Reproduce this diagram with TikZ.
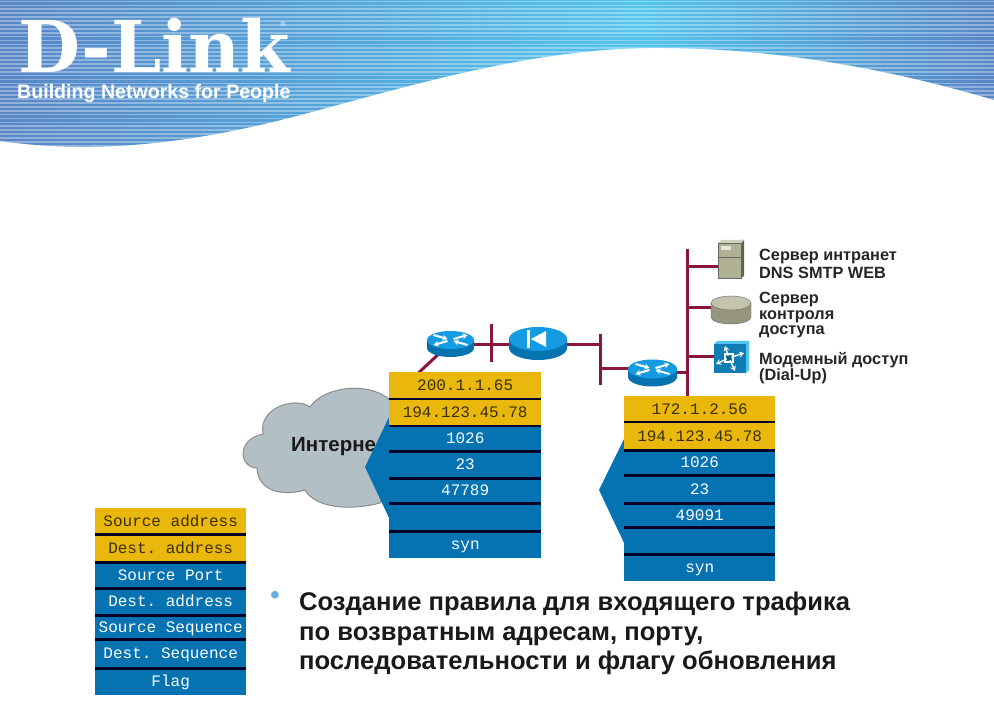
\documentclass[tikz,border=0pt]{standalone}
\usepackage{fontspec}
\setmainfont{Liberation Sans}
\setmonofont{Liberation Mono}
\newfontfamily\logofont{DejaVu Serif}
\usepackage{xcolor}
\usetikzlibrary{positioning,arrows.meta}
\definecolor{bandblue}{RGB}{88,134,198}
\definecolor{bandsky}{RGB}{84,196,238}
\definecolor{gold}{RGB}{234,184,12}
\definecolor{cell}{RGB}{5,114,178}
\definecolor{wire}{RGB}{140,22,58}
\definecolor{cloudgray}{RGB}{178,192,198}
\definecolor{tan}{RGB}{176,176,146}
\definecolor{routertop}{RGB}{20,155,225}
\definecolor{routerside}{RGB}{5,115,175}
\tikzset{
	goldcell/.style={draw=none, rectangle, fill=gold, minimum width=#1, inner sep=0pt, text=black!75!gold},
	bluecell/.style={draw=none, rectangle, fill=cell, minimum width=#1, inner sep=0pt, text=white},
	wire/.style={draw=wire, line width=3pt},
	rowline/.style={draw=black!85!blue, line width=2.2pt},
	caption/.style={anchor=north west, align=left, inner sep=0pt, font=\fontsize{16.3}{#1}\selectfont\bfseries, text=black!85},
	bullettext/.style={anchor=north west, align=left, inner sep=0pt, font=\fontsize{25.6}{29.5}\selectfont\bfseries, text=black!90},
	celltext/.style={font=\fontsize{16}{16}\selectfont\ttfamily, anchor=north west, text height=13pt, text depth=3pt},
	whitearrow/.style={draw=white, line width=2pt, -{Stealth[length=5pt,width=6pt]}}
}
% round box: centre x, centre y, half width, side height, half height
\newcommand{\routerbox}[5]{%
	\fill[routerside] (#1-#3,#2) -- (#1-#3,#2+#4) arc[x radius=#3, y radius=#5, start angle=180, end angle=0] -- (#1+#3,#2) -- cycle;
	\fill[routertop] (#1,#2) ellipse[x radius=#3, y radius=#5];
}
\begin{document}
\begin{tikzpicture}[x=1pt, y=-1pt]
	\useasboundingbox (0,0) rectangle (994,703);
	\fill[white] (0,0) rectangle (994,703);

	% header band
	\begin{scope}
		\clip (0,0) -- (994,0) -- (994,100) .. controls (900,72) and (780,47) .. (650,48)
			.. controls (540,49) and (430,80) .. (330,107) .. controls (230,135) and (120,158) .. (0,141) -- cycle;
		\shade[left color=bandblue, right color=bandsky] (0,0) rectangle (640,160);
		\shade[left color=bandsky, right color=bandblue] (640,0) rectangle (994,160);
		\foreach \y in {1.5,5.4,...,160}
			\draw[white, opacity=.35, line width=1.7pt] (0,\y) -- (994,\y);
	\end{scope}
	\node[text=white, inner sep=0pt, anchor=base west, text height=53pt, text depth=0pt] (logo) at (18,73) {\logofont\fontsize{71.5}{72}\selectfont\bfseries D-Link};
	\node[text=white, inner sep=0pt, font=\fontsize{7}{7}\selectfont] (reg) at (283,24) {®};
	\node[text=white, inner sep=0pt, anchor=base west, font=\fontsize{19.6}{20}\selectfont\bfseries] (tag) at (17,99) {Building Networks for People};

	% network devices
	\coordinate (r1) at (450.5,343);
	\coordinate (k1) at (538,342);
	\coordinate (r2) at (652.5,371);
	\coordinate (netjoin) at (398,392);
	\coordinate (b1top) at (491,324);
	\coordinate (b1bot) at (491,362);
	\coordinate (b2top) at (600,334);
	\coordinate (b2bot) at (600,385);
	\coordinate (b3top) at (687,249);
	\coordinate (b3bot) at (687,397);
	\coordinate (b1j) at (491,345);
	\coordinate (b2j) at (600,345);
	\coordinate (b2k) at (600,369);
	\coordinate (b3a) at (687,267);
	\coordinate (b3b) at (687,308);
	\coordinate (b3c) at (687,357);
	\coordinate (b3d) at (687,373);
	\coordinate (srv) at (719,267);
	\coordinate (dsk) at (711,308);
	\coordinate (mdm) at (714,357);

	\draw[wire] (r1) -- (netjoin);

	% cloud
	\draw[draw=black!45, fill=cloudgray, line width=1pt] (263,434) .. controls (258,408) and (295,396) .. (310,407)
		.. controls (325,385) and (375,380) .. (395,405) .. controls (402,440) and (400,480) .. (380,503)
		.. controls (350,511) and (315,508) .. (305,490) .. controls (280,497) and (258,490) .. (257,468)
		.. controls (240,468) and (235,440) .. cycle;
	\node[anchor=west, inner sep=0pt, font=\fontsize{20.5}{20}\selectfont\bfseries, text=black!90] (net) at (291,447) {Интерне};

	\draw[wire] (r1 |- b1j) -- (b1j);
	\draw[wire] (b1j) -- (b2j);
	\draw[wire] (b1top) -- (b1bot);
	\draw[wire] (b2top) -- (b2bot);
	\draw[wire] (b2k) -- (r2 |- b2k);
	\draw[wire] (r2 |- b3d) -- (b3d);
	\draw[wire] (b3top) -- (b3bot);
	\draw[wire] (b3a) -- (srv);
	\draw[wire] (b3b) -- (dsk);
	\draw[wire] (b3c) -- (mdm);

	\routerbox{450.5}{340}{23.5}{8}{9}
	\routerbox{652.5}{369}{24.5}{8}{9.5}
	\routerbox{538}{339}{29}{9}{12}
	\foreach \cx/\cy in {450.5/340, 652.5/369}{
		\begin{scope}[shift={(\cx,\cy)}]
			\draw[whitearrow] (-17,-5) -- (-3,-1);
			\draw[whitearrow] (17,5) -- (3,1);
			\draw[whitearrow] (3,-1) -- (17,-5);
			\draw[whitearrow] (-3,1) -- (-17,5);
		\end{scope}
	}
	\fill[white] (527,330) rectangle (530,348);
	\fill[white] (531,339) -- (546,331) -- (546,347) -- cycle;

	% server
	\fill[tan!55!black] (741,240) -- (744,240) -- (744,276) -- (741,278) -- cycle;
	\draw[black!60, fill=tan] (718,243) rectangle (741,278);
	\fill[tan!60!white] (718,243) -- (721,240) -- (744,240) -- (741,243) -- cycle;
	\draw[black!60] (718,257) -- (741,257);
	\fill[white!70!tan] (721,246) rectangle (731,250);

	% disk
	\draw[black!60, fill=tan!85!black] (711,303) -- (711,317) arc[x radius=20, y radius=7, start angle=180, end angle=0] -- (751,303) -- cycle;
	\draw[black!60, fill=tan!75!white] (731,303) ellipse[x radius=20, y radius=7];

	% modem
	\fill[cyan!70!white] (714,344) -- (717,341) -- (749,341) -- (749,370) -- (746,373) -- cycle;
	\fill[routertop!80!black] (714,344) rectangle (746,373);
	\draw[white, line width=1.2pt] (725,354) rectangle (733,362);
	\draw[whitearrow, line width=1.4pt] (729,358) -- (725,346);
	\draw[whitearrow, line width=1.4pt] (729,358) -- (744,353);
	\draw[whitearrow, line width=1.4pt] (729,358) -- (716,364);
	\draw[whitearrow, line width=1.4pt] (729,358) -- (735,371);
	\fill[routertop!60!black] (729,358) circle (2.5pt);

	% device captions
	\node[caption=18] (cap1) at (759,249) {Сервер интранет\\DNS SMTP WEB};
	\node[caption=15.5] (cap2) at (759,292) {Сервер\\контроля\\доступа};
	\node[caption=16] (cap3) at (759,352) {Модемный доступ\\(Dial-Up)};

	% legend table
	\foreach \name/\top/\bot/\kind/\txt in {
		la/508/534/goldcell/Source address, lb/534/562/goldcell/Dest. address,
		lc/562/588/bluecell/Source Port, ld/588/615/bluecell/Dest. address,
		le/615/639/bluecell/Source Sequence, lf/639/668/bluecell/Dest. Sequence,
		lg/668/695/bluecell/Flag}{
		\node[\kind=151pt, minimum height=\bot pt-\top pt, celltext] (\name) at (95,\top) {\txt};
	}
	\foreach \a in {la,lb,lc,ld,le,lf}
		\draw[rowline] (\a.south west) -- (\a.south east);

	% inbound packet
	\fill[cell] (390,415) -- (365,467) -- (390,520) -- cycle;
	\foreach \name/\top/\bot/\kind/\txt in {
		ma/372/399/goldcell/200.1.1.65, mb/399/426/goldcell/194.123.45.78,
		mc/426/451/bluecell/1026, md/451/478/bluecell/23,
		me/478/503/bluecell/47789, mf/503/531/bluecell/,
		mg/531/558/bluecell/syn}{
		\node[\kind=152pt, minimum height=\bot pt-\top pt, celltext] (\name) at (389,\top) {\txt};
	}
	\foreach \a in {ma,mb,mc,md,me,mf}
		\draw[rowline] (\a.south west) -- (\a.south east);

	% outbound packet
	\fill[cell] (625,437) -- (599,490) -- (625,545) -- cycle;
	\foreach \name/\top/\bot/\kind/\txt in {
		ra/396/422/goldcell/172.1.2.56, rb/422/450/goldcell/194.123.45.78,
		rc/450/475/bluecell/1026, rd/475/503/bluecell/23,
		re/503/527/bluecell/49091, rf/527/554/bluecell/,
		rg/554/581/bluecell/syn}{
		\node[\kind=151pt, minimum height=\bot pt-\top pt, celltext] (\name) at (624,\top) {\txt};
	}
	\foreach \a in {ra,rb,rc,rd,re,rf}
		\draw[rowline] (\a.south west) -- (\a.south east);

	% bullet text
	\node[anchor=center, inner sep=0pt, text=cyan!70!blue!60, font=\fontsize{28}{28}\selectfont] (dot) at (275,598) {•};
	\node[bullettext] (rule) at (299,592) {Создание правила для входящего трафика\\по возвратным адресам, порту,\\последовательности и флагу обновления};
\end{tikzpicture}
\end{document}
